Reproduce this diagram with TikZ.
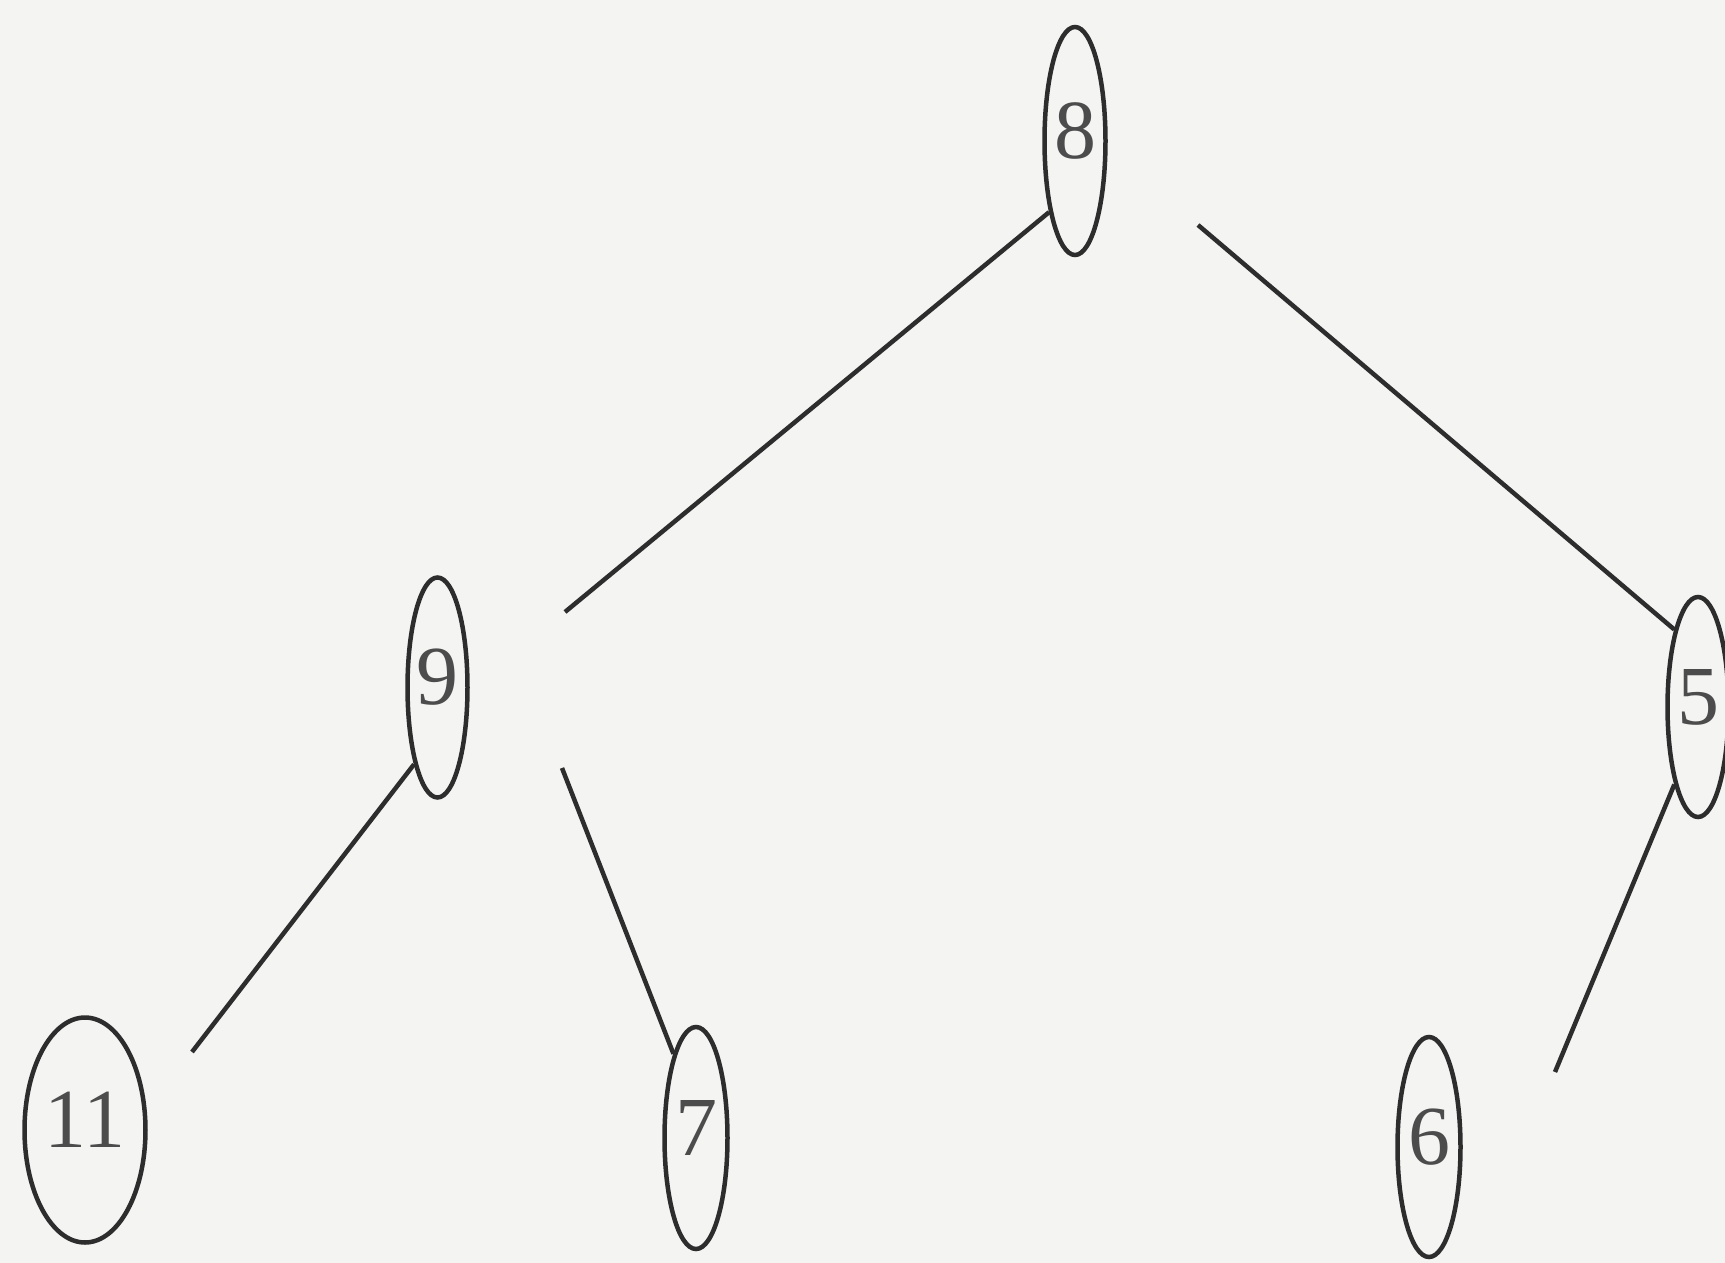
\documentclass[tikz,border=0pt]{standalone}
\usepackage{fontspec}
\setmainfont{Liberation Serif}
\usetikzlibrary{shapes.geometric}
\definecolor{bgcol}{RGB}{244,244,243}
\definecolor{inkcol}{RGB}{45,45,45}
\begin{document}
\begin{tikzpicture}[x=1pt,y=-1pt,
  treenode/.style={ellipse, draw=inkcol, line width=4.5pt, inner sep=0pt,
    text=inkcol!85, text height=57pt, text depth=23pt,
    font=\fontsize{84}{100}\selectfont},
  edge/.style={draw=inkcol, line width=4.5pt}]
\fill[bgcol] (0,0) rectangle (1725,1263);
\useasboundingbox (0,0) rectangle (1725,1263);

\node[treenode, minimum width=61pt, minimum height=228pt] (n8) at (1075,141) {8};
\node[treenode, minimum width=60pt, minimum height=220pt] (n9) at (437.5,687.5) {9};
\node[treenode, minimum width=61pt, minimum height=220pt] (n5) at (1698,707) {5};
\node[treenode, minimum width=121pt, minimum height=225pt] (n11) at (85,1130) {11};
\node[treenode, minimum width=63pt, minimum height=222pt] (n7) at (696,1138) {7};
\node[treenode, minimum width=63pt, minimum height=220pt] (n6) at (1429,1147) {6};

\coordinate (e89) at (565,612);
\coordinate (e85) at (1198,225);
\coordinate (e911) at (192,1052);
\coordinate (e97) at (562,768);
\coordinate (e56) at (1555,1072);

\draw[edge] (n8.250.8) -- (e89);
\draw[edge] (e85) -- (n5.107.6);
\draw[edge] (n9.253.4) -- (e911);
\draw[edge] (e97) -- (n7.105.6);
\draw[edge] (n5.253.9) -- (e56);
\end{tikzpicture}
\end{document}
